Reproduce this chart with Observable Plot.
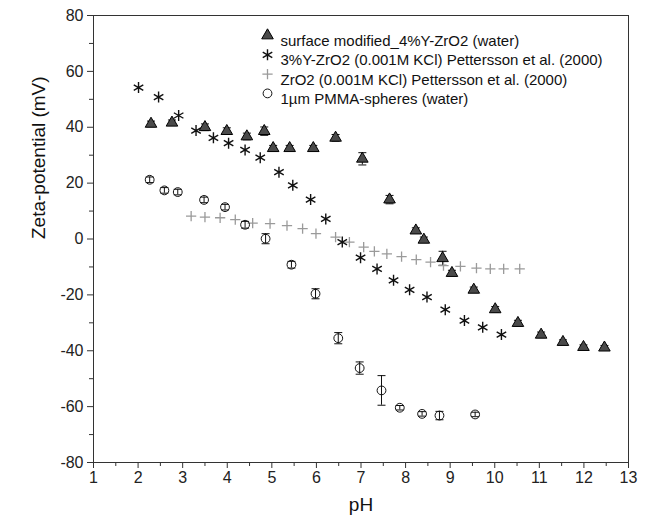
<!DOCTYPE html>
<html><head><meta charset="utf-8">
<script src="https://cdn.jsdelivr.net/npm/d3@7"></script>
<script src="https://cdn.jsdelivr.net/npm/@observablehq/plot@0.6"></script>
<style>body{margin:0;background:#fff;} #chart svg{display:block;}</style>
</head><body><div id="chart"></div>
<script>
// surface modified_4%Y-ZrO2 (water)
const triPH   = [2.29, 2.76, 3.50, 3.99, 4.44, 4.83, 5.03, 5.40, 5.93, 6.43, 7.03, 7.64, 8.23, 8.41, 8.83, 9.04, 9.53, 10.01, 10.52, 11.04, 11.53, 11.99, 12.46];
const triZeta = [41.2, 41.6, 40.0, 38.6, 36.7, 38.6, 32.5, 32.5, 32.5, 36.2, 28.7, 14.1, 3.0, -0.3, -6.9, -12.2, -18.2, -25.2, -30.1, -34.3, -36.9, -38.7, -38.9];
const triErr  = [1.0, 1.0, 1.2, 1.2, 1.2, 1.5, 1.0, 1.0, 1.0, 1.2, 2.2, 1.5, 1.0, 1.0, 2.5, 1.0, 1.0, 1.0, 1.0, 1.0, 0.8, 0.8, 0.8];
// 3%Y-ZrO2 (0.001M KCl) Pettersson et al. (2000)
const starPH   = [2.01, 2.46, 2.91, 3.30, 3.69, 4.03, 4.40, 4.74, 5.16, 5.47, 5.87, 6.21, 6.58, 6.99, 7.36, 7.73, 8.09, 8.48, 8.89, 9.32, 9.73, 10.15];
const starZeta = [54.2, 50.8, 44.2, 38.8, 36.2, 34.3, 31.9, 29.1, 23.9, 19.2, 14.1, 7.2, -1.1, -6.7, -10.7, -14.8, -18.2, -20.8, -25.3, -29.2, -31.6, -34.2];
// ZrO2 (0.001M KCl) Pettersson et al. (2000)
const plusPH   = [3.19, 3.50, 3.84, 4.18, 4.57, 4.96, 5.34, 5.69, 5.99, 6.43, 6.74, 7.06, 7.30, 7.58, 7.91, 8.24, 8.56, 8.85, 9.23, 9.59, 9.90, 10.20, 10.56];
const plusZeta = [8.2, 7.8, 7.6, 6.9, 5.7, 5.5, 4.8, 3.7, 1.9, 0.7, -1.1, -2.9, -4.4, -5.3, -6.3, -7.4, -8.3, -9.5, -9.8, -10.4, -10.7, -10.7, -10.7];
// 1µm PMMA-spheres (water)
const circPH   = [2.26, 2.59, 2.89, 3.48, 3.95, 4.40, 4.86, 5.44, 5.98, 6.49, 6.97, 7.46, 7.87, 8.37, 8.76, 9.56];
const circZeta = [21.2, 17.4, 16.8, 14.0, 11.4, 5.1, 0.1, -9.2, -19.6, -35.5, -46.2, -54.2, -60.4, -62.6, -63.2, -62.8];
const circErr  = [1.0, 1.0, 1.0, 1.0, 1.0, 1.2, 1.8, 1.2, 1.8, 2.0, 2.2, 5.3, 0.8, 0.8, 1.5, 0.8];

const seriesNames = [
  "surface modified_4%Y-ZrO2 (water)",
  "3%Y-ZrO2 (0.001M KCl) Pettersson et al. (2000)",
  "ZrO2 (0.001M KCl) Pettersson et al. (2000)",
  "1µm PMMA-spheres (water)"
];
const xTicks = d3.range(1, 14, 1);
const xMinor = d3.range(1.5, 13, 1);
const yTicks = d3.range(-80, 81, 20);
const yMinor = d3.range(-70, 80, 20);
const xLabel = "pH";
const yLabel = "Zeta-potential (mV)";

const tri = triPH.map((x, i) => ({x, y: triZeta[i], e: triErr[i]}));
const star = starPH.map((x, i) => ({x, y: starZeta[i]}));
const plus = plusPH.map((x, i) => ({x, y: plusZeta[i]}));
const circ = circPH.map((x, i) => ({x, y: circZeta[i], e: circErr[i]}));

const cap = {draw(ctx, size) { const r = Math.sqrt(size / Math.PI); ctx.moveTo(-r, 0); ctx.lineTo(r, 0); }};

const styles = [
  {symbol: "triangle", r: 4.3, fill: "#4a4a4a", stroke: "#000", strokeWidth: 1},
  {symbol: "asterisk", r: 5.2, fill: "none", stroke: "#111", strokeWidth: 1.4},
  {symbol: "plus", r: 3.4, fill: "none", stroke: "#9a9a9a", strokeWidth: 1.3},
  {symbol: "circle", r: 4.4, fill: "none", stroke: "#111", strokeWidth: 1}
];

const legendX = 174, legendTextX = 187, legendY0 = 20, legendStep = 19.3;
const legendMarks = seriesNames.flatMap((name, i) => [
  Plot.dot([name], {frameAnchor: "top-left", dx: legendX, dy: legendY0 + i * legendStep, ...styles[i]}),
  Plot.text([name], {frameAnchor: "top-left", dx: legendTextX, dy: legendY0 + i * legendStep, textAnchor: "start", fontSize: 15, fill: "#111"})
]);

function errMarks(data) {
  return [
    Plot.ruleX(data, {x: "x", y1: d => d.y - d.e, y2: d => d.y + d.e, stroke: "#111", strokeWidth: 1}),
    Plot.dot(data, {x: "x", y: d => d.y + d.e, symbol: cap, r: 4, stroke: "#111", strokeWidth: 1}),
    Plot.dot(data, {x: "x", y: d => d.y - d.e, symbol: cap, r: 4, stroke: "#111", strokeWidth: 1})
  ];
}

const chart = Plot.plot({
  width: 653, height: 525,
  marginLeft: 93, marginRight: 25, marginTop: 15, marginBottom: 63,
  style: {fontFamily: "'Liberation Sans', Arial, Helvetica, sans-serif", fontSize: "16px", background: "#fff", color: "#222"},
  x: {domain: [1, 13], label: null},
  y: {domain: [-80, 80], label: null},
  marks: [
    Plot.frame({stroke: "#333", strokeWidth: 1}),
    Plot.axisX(xTicks, {tickSize: 6, tickPadding: 3, fontSize: 16, tickFormat: d => String(d), label: null, stroke: "#333"}),
    Plot.axisX(xMinor, {tickSize: 4, tickFormat: () => "", label: null, stroke: "#333"}),
    Plot.axisY(yTicks, {tickSize: 6, tickPadding: 4, fontSize: 16, tickFormat: d => String(d), label: null, stroke: "#333"}),
    Plot.axisY(yMinor, {tickSize: 4, tickFormat: () => "", label: null, stroke: "#333"}),
    Plot.text([xLabel], {frameAnchor: "bottom", dy: 48, fontSize: 19, fill: "#111"}),
    Plot.text([yLabel], {frameAnchor: "left", dx: -55, rotate: -90, fontSize: 19, fill: "#111"}),
    ...errMarks(circ),
    ...errMarks(tri),
    Plot.dot(plus, {x: "x", y: "y", ...styles[2]}),
    Plot.dot(star, {x: "x", y: "y", ...styles[1]}),
    Plot.dot(tri, {x: "x", y: "y", ...styles[0]}),
    Plot.dot(circ, {x: "x", y: "y", ...styles[3]}),
    ...legendMarks
  ]
});
document.getElementById("chart").appendChild(chart);
</script>
</body></html>
